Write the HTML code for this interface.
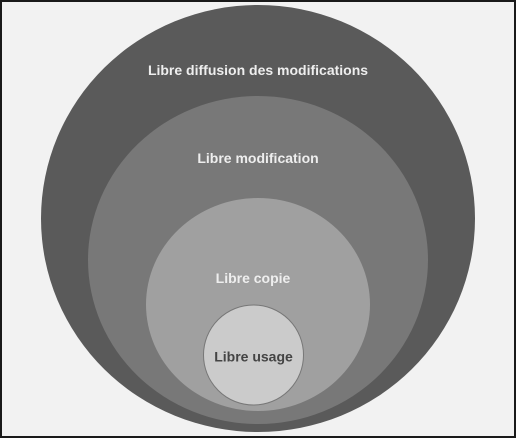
<!DOCTYPE html>
<html><head><meta charset="utf-8"><style>
html,body{margin:0;padding:0;background:#f2f2f2}
svg{display:block}
</style></head><body>
<svg width="516" height="438" viewBox="0 0 516 438" xmlns="http://www.w3.org/2000/svg">
<rect x="1" y="1" width="514" height="436" fill="#f2f2f2" stroke="#1a1a1a" stroke-width="2"/>
<ellipse cx="258" cy="218.5" rx="217" ry="213.5" fill="#5a5a5a"/>
<ellipse cx="258" cy="260" rx="170" ry="164" fill="#787878"/>
<ellipse cx="258" cy="304.5" rx="112" ry="106.5" fill="#a0a0a0"/>
<circle cx="253.5" cy="355" r="50" fill="#cbcbcb" stroke="#777" stroke-width="1"/>
<g font-family="Liberation Sans, sans-serif" font-weight="bold" font-size="14" text-anchor="middle">
<text x="258" y="75" fill="#eeeeee">Libre diffusion des modifications</text>
<text x="258" y="163" fill="#eeeeee">Libre modification</text>
<text x="253" y="283" fill="#eeeeee">Libre copie</text>
<text x="253.5" y="361.5" fill="#444444">Libre usage</text>
</g>
</svg>
</body></html>
